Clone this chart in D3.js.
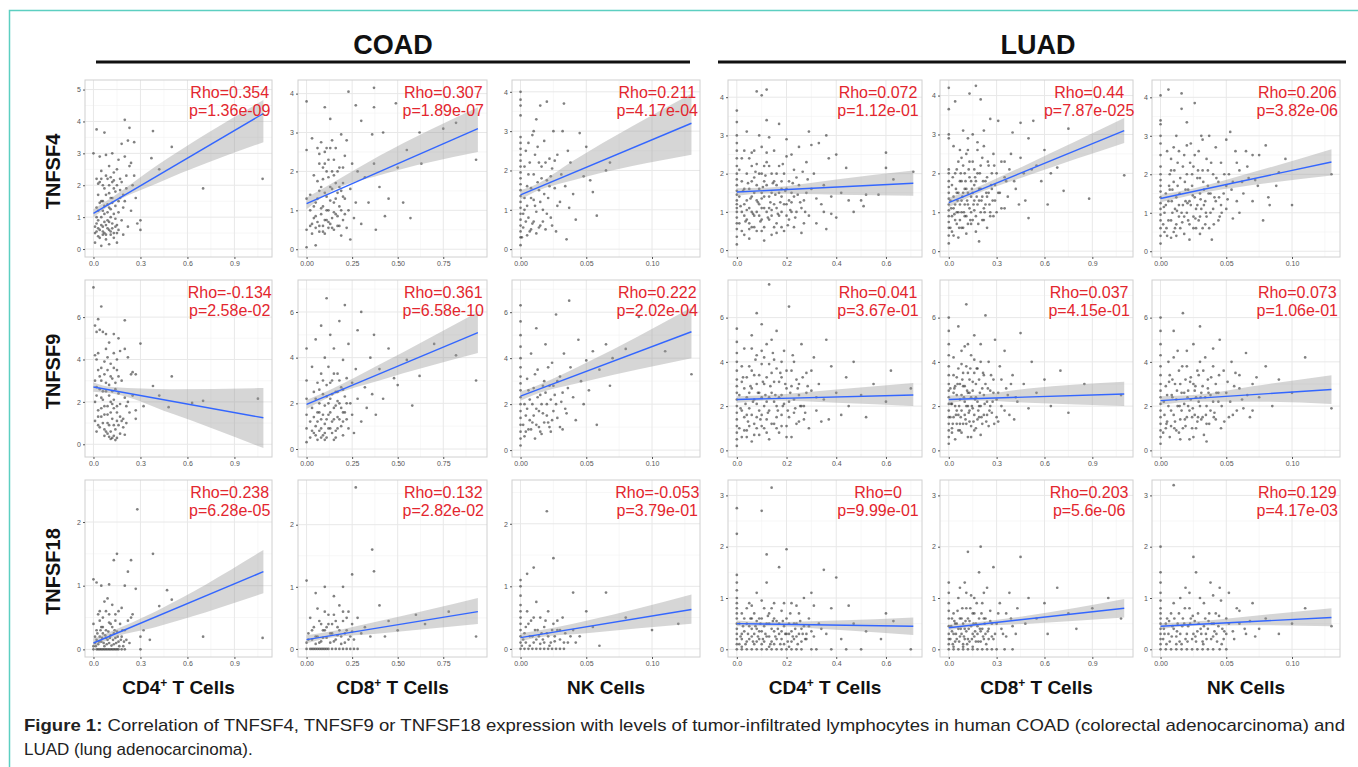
<!DOCTYPE html>
<html>
<head>
<meta charset="utf-8">
<script src="https://d3js.org/d3.v7.min.js"></script>
<style>
  body { margin: 0; background: #fff; }
  svg { display: block; font-family: "Liberation Sans", Arial, sans-serif; }
</style>
</head>
<body>
<script>
// ---- data ----
const cancers = ["COAD", "LUAD"];
const genes = ["TNFSF4", "TNFSF9", "TNFSF18"];
const cells = ["CD4", "CD8", "NK", "CD4", "CD8", "NK"];
const cellSup = ["+", "+", "", "+", "+", ""];

// x scale per column (same immune cell across rows)
const xDomains = [[-0.054, 1.14], [-0.047, 0.99], [-0.0065, 0.1365], [-0.0355, 0.745], [-0.055, 1.155], [-0.0065, 0.1365]];
const xTicks = [[0, 0.3, 0.6, 0.9], [0, 0.25, 0.5, 0.75], [0, 0.05, 0.10], [0, 0.2, 0.4, 0.6], [0, 0.3, 0.6, 0.9], [0, 0.05, 0.10]];
const xFormats = [".1f", ".2f", ".2f", ".1f", ".1f", ".2f"];
const labelX = [0.87, 0.75, 0.104, 0.568, 0.88, 0.104];

// y scale per panel, row by row
const yDomains = [
  [[-0.25, 5.3], [-0.2, 4.35], [-0.2, 4.3], [-0.18, 4.45], [-0.15, 4.4], [-0.15, 4.45]],
  [[-0.6, 7.75], [-0.35, 7.4], [-0.3, 7.4], [-0.3, 7.7], [-0.3, 7.7], [-0.3, 7.7]],
  [[-0.12, 2.66], [-0.13, 2.72], [-0.13, 2.7], [-0.15, 3.3], [-0.15, 3.3], [-0.15, 3.3]]
];
const yTicks = [
  [[0, 1, 2, 3, 4, 5], [0, 1, 2, 3, 4], [0, 1, 2, 3, 4], [0, 1, 2, 3, 4], [0, 1, 2, 3, 4], [0, 1, 2, 3, 4]],
  [[0, 2, 4, 6], [0, 2, 4, 6], [0, 2, 4, 6], [0, 2, 4, 6], [0, 2, 4, 6], [0, 2, 4, 6]],
  [[0, 1, 2], [0, 1, 2], [0, 1, 2], [0, 1, 2, 3], [0, 1, 2, 3], [0, 1, 2, 3]]
];

const rhoLabels = [
  ["Rho=0.354", "Rho=0.307", "Rho=0.211", "Rho=0.072", "Rho=0.44", "Rho=0.206"],
  ["Rho=-0.134", "Rho=0.361", "Rho=0.222", "Rho=0.041", "Rho=0.037", "Rho=0.073"],
  ["Rho=0.238", "Rho=0.132", "Rho=-0.053", "Rho=0", "Rho=0.203", "Rho=0.129"]
];
const pLabels = [
  ["p=1.36e-09", "p=1.89e-07", "p=4.17e-04", "p=1.12e-01", "p=7.87e-025", "p=3.82e-06"],
  ["p=2.58e-02", "p=6.58e-10", "p=2.02e-04", "p=3.67e-01", "p=4.15e-01", "p=1.06e-01"],
  ["p=6.28e-05", "p=2.82e-02", "p=3.79e-01", "p=9.99e-01", "p=5.6e-06", "p=4.17e-03"]
];

// fitted line [x0, y0, x1, y1]
const fitLines = [
  [[0, 1.12, 1.085, 4.25], [0, 1.17, 0.94, 3.1], [0, 1.38, 0.13, 3.2], [0, 1.52, 0.71, 1.75], [0, 1.25, 1.1, 3.1], [0, 1.37, 0.13, 2.32]],
  [[0, 2.7, 1.085, 1.25], [0, 1.95, 0.94, 5.1], [0, 2.35, 0.13, 5.15], [0, 2.3, 0.71, 2.5], [0, 2.3, 1.1, 2.55], [0, 2.25, 0.13, 2.75]],
  [[0, 0.1, 1.085, 1.22], [0, 0.15, 0.94, 0.6], [0, 0.18, 0.13, 0.63], [0, 0.5, 0.71, 0.45], [0, 0.42, 1.1, 0.8], [0, 0.45, 0.13, 0.62]]
];
// confidence band [x, lower, upper]
const bands = [
  [
    [[0, 1.0, 1.25], [0.12, 1.42, 1.62], [0.4, 2.05, 2.6], [1.085, 3.35, 4.67]],
    [[0, 1.03, 1.33], [0.13, 1.47, 1.67], [0.4, 1.9, 2.4], [0.94, 2.5, 3.65]],
    [[0, 1.26, 1.5], [0.01, 1.44, 1.62], [0.04, 1.75, 2.25], [0.13, 2.4, 3.95]],
    [[0, 1.42, 1.62], [0.13, 1.48, 1.64], [0.4, 1.45, 1.85], [0.71, 1.42, 2.08]],
    [[0, 1.13, 1.37], [0.15, 1.43, 1.6], [0.5, 1.95, 2.25], [1.1, 2.78, 3.42]],
    [[0, 1.27, 1.47], [0.025, 1.47, 1.63], [0.07, 1.72, 2.05], [0.13, 1.97, 2.65]]
  ],
  [
    [[0, 2.48, 2.92], [0.12, 2.4, 2.7], [0.5, 1.45, 2.6], [1.085, -0.18, 2.65]],
    [[0, 1.75, 2.15], [0.13, 2.3, 2.6], [0.4, 3.0, 3.7], [0.94, 4.2, 6.0]],
    [[0, 2.15, 2.55], [0.01, 2.4, 2.75], [0.05, 3.0, 3.8], [0.13, 4.0, 6.2]],
    [[0, 2.15, 2.45], [0.13, 2.25, 2.5], [0.4, 2.15, 2.75], [0.71, 2.0, 3.05]],
    [[0, 2.12, 2.48], [0.15, 2.25, 2.5], [0.5, 2.15, 2.8], [1.1, 2.0, 3.1]],
    [[0, 2.05, 2.45], [0.025, 2.2, 2.5], [0.07, 2.2, 2.9], [0.13, 2.1, 3.4]]
  ],
  [
    [[0, 0.04, 0.17], [0.1, 0.16, 0.27], [0.4, 0.35, 0.6], [1.085, 0.88, 1.56]],
    [[0, 0.09, 0.22], [0.13, 0.18, 0.28], [0.4, 0.25, 0.45], [0.94, 0.4, 0.82]],
    [[0, 0.12, 0.25], [0.01, 0.17, 0.28], [0.05, 0.25, 0.45], [0.13, 0.4, 0.87]],
    [[0, 0.45, 0.56], [0.13, 0.45, 0.53], [0.4, 0.38, 0.56], [0.71, 0.28, 0.62]],
    [[0, 0.37, 0.48], [0.15, 0.44, 0.52], [0.5, 0.5, 0.66], [1.1, 0.62, 0.98]],
    [[0, 0.39, 0.51], [0.025, 0.46, 0.54], [0.07, 0.47, 0.65], [0.13, 0.45, 0.8]]
  ]
];

// scatter points "x,y x,y ..." (spread + outliers)
const tnfsf4Points = [
  "0.01,0.5 0.02,0.8 0.03,0.4 0.04,0.6 0.05,1.0 0.06,0.7 0.07,0.5 0.08,0.3 0.09,0.9 0.1,0.6 0.11,0.45 0.12,0.8 0.13,1.1 0.14,0.7 0.02,1.3 0.03,1.7 0.04,2.1 0.05,2.2 0.06,1.5 0.07,1.9 0.08,2.3 0.09,1.4 0.1,2.0 0.11,1.6 0.12,2.1 0.13,2.4 0.14,1.8 0.15,2.0 0.16,1.5 0.17,2.2 0.18,0.9 0.19,1.3 0.2,2.9 0.21,1.9 0.22,0.7 0.23,2.6 0.24,1.2 0.25,2.0 0.27,1.6 0.28,0.8 0.3,0.9 0.3,0.6 0.0,3.0 0.04,2.9 0.08,2.95 0.12,3.0 0.16,2.8 0.18,3.3 0.22,3.4 0.26,3.35 0.02,3.75 0.07,3.65 0.2,4.05 0.23,3.8 0.38,3.7 0.5,3.2 0.37,2.85 0.42,2.5 0.7,1.9 1.08,2.2 0.01,0.2 0.05,0.1 0.1,0.15 0.15,0.2 0.06,1.2 0.09,1.15 0.02,1.0 0.15,0.5 0.19,0.45 0.13,0.35 0.17,1.6 0.24,2.7 0.26,2.3 0.03,0.65 0.06,0.45 0.08,0.75 0.11,1.0 0.04,1.45 0.07,1.1 0.1,1.3 0.12,1.45",
  "0.0,0.05 0.0,0.5 0.0,1.3 0.0,2.55 0.0,3.8 0.02,0.6 0.02,1.0 0.02,1.4 0.03,0.4 0.03,2.85 0.04,0.8 0.04,1.9 0.05,0.1 0.05,0.55 0.05,1.2 0.06,0.7 0.06,2.6 0.07,0.45 0.07,1.5 0.07,2.2 0.08,0.9 0.08,2.75 0.09,0.6 0.09,1.1 0.09,1.8 0.1,0.4 0.1,2.5 0.1,3.65 0.11,0.75 0.11,1.35 0.11,2.0 0.12,0.55 0.12,1.0 0.12,2.3 0.13,3.35 0.13,0.65 0.13,1.6 0.14,0.8 0.14,2.0 0.14,2.8 0.15,0.5 0.15,1.2 0.15,1.9 0.16,0.9 0.16,2.6 0.17,0.6 0.17,1.45 0.18,1.1 0.18,2.1 0.19,2.95 0.19,0.35 0.2,0.75 0.2,1.7 0.21,2.4 0.21,1.3 0.22,0.55 0.22,2.8 0.23,4.05 0.23,1.0 0.24,0.25 0.24,1.55 0.25,2.2 0.26,0.8 0.27,3.7 0.27,1.2 0.28,2.0 0.3,3.3 0.3,0.65 0.32,1.85 0.34,1.2 0.36,2.95 0.37,4.15 0.37,3.65 0.37,2.2 0.38,0.5 0.4,1.6 0.42,3.0 0.43,0.85 0.45,1.3 0.49,3.75 0.5,2.1 0.53,1.2 0.55,2.55 0.57,0.8 0.63,2.2 0.62,3.0 0.75,3.1 0.82,3.25 0.93,2.3",
  "0,0.1 0,0.3 0,0.45 0,0.6 0,0.75 0,0.9 0,1.05 0,1.2 0,1.35 0,1.5 0,1.65 0,1.8 0,1.95 0,2.1 0,2.25 0,2.4 0,2.55 0,2.7 0,2.85 0,3.4 0,3.65 0,3.8 0,4.0 0.002,0.55 0.003,1.0 0.004,2.5 0.005,0.35 0.005,1.6 0.006,0.8 0.007,2.2 0.008,0.5 0.008,1.3 0.009,2.9 0.01,0.7 0.01,1.9 0.011,1.1 0.012,3.3 0.012,0.4 0.013,2.6 0.014,1.5 0.015,0.6 0.015,3.65 0.016,2.1 0.017,1.0 0.018,2.75 0.019,0.5 0.02,1.75 0.02,3.75 0.021,1.3 0.022,2.3 0.023,0.8 0.024,2.05 0.025,3.0 0.026,1.55 0.027,0.45 0.028,2.4 0.03,1.2 0.031,1.9 0.032,3.0 0.033,3.7 0.034,1.6 0.035,0.25 0.036,2.5 0.037,1.05 0.038,2.2 0.04,1.4 0.042,0.75 0.045,2.95 0.048,1.85 0.05,2.6 0.053,1.75 0.055,1.45 0.058,0.85 0.065,2.0 0.068,2.2",
  "0,0.15 0,0.35 0,0.55 0,0.7 0,0.85 0,1.0 0,1.1 0,1.2 0,1.3 0,1.45 0,1.55 0,1.7 0,1.85 0,2.0 0,2.2 0,2.4 0,2.6 0,2.8 0,3.0 0,3.35 0,3.65 0.02,0.5 0.03,1.2 0.03,2.6 0.04,0.8 0.04,3.1 0.05,1.6 0.05,0.3 0.06,2.2 0.06,1.0 0.07,0.6 0.07,1.9 0.07,2.6 0.08,1.3 0.08,4.15 0.09,0.9 0.09,2.0 0.09,3.0 0.1,0.5 0.1,1.5 0.1,2.7 0.1,4.05 0.11,1.1 0.11,1.8 0.11,0.25 0.12,3.4 0.12,4.2 0.12,2.3 0.13,0.8 0.13,1.4 0.14,2.0 0.14,0.4 0.15,1.2 0.15,2.6 0.16,0.7 0.16,1.7 0.17,2.2 0.17,3.3 0.18,1.0 0.18,1.4 0.19,0.5 0.19,2.0 0.2,1.2 0.2,2.9 0.21,0.8 0.21,1.8 0.22,2.5 0.22,1.5 0.23,0.6 0.23,2.1 0.24,1.0 0.25,1.7 0.25,2.7 0.26,0.45 0.27,1.3 0.28,2.3 0.29,0.9 0.29,3.1 0.3,1.6 0.31,2.0 0.32,0.7 0.33,2.8 0.34,1.2 0.35,1.0 0.36,3.0 0.36,0.55 0.37,2.4 0.38,1.4 0.4,0.85 0.4,2.5 0.42,1.5 0.44,2.15 0.45,1.3 0.47,1.0 0.5,1.3 0.51,1.15 0.52,1.45 0.57,1.45 0.6,2.55 0.6,2.15 0.63,1.85 0.71,2.05 0.3,2.75 0.13,2.95",
  "0,0.2 0,0.4 0,0.6 0,0.75 0,0.9 0,1.05 0,1.2 0,1.35 0,1.5 0,1.65 0,1.8 0,2.0 0,2.1 0,2.9 0,3.0 0,3.65 0,4.2 0.02,0.5 0.03,1.1 0.03,2.7 0.04,0.8 0.04,3.85 0.05,1.5 0.05,2.1 0.06,0.35 0.06,1.0 0.07,1.8 0.07,2.6 0.08,0.6 0.08,1.3 0.09,2.2 0.09,3.1 0.1,0.9 0.1,1.6 0.11,2.5 0.11,0.45 0.12,1.2 0.12,2.9 0.13,1.9 0.13,4.05 0.14,0.7 0.14,1.4 0.15,2.3 0.15,3.0 0.16,1.05 0.16,1.7 0.17,4.25 0.17,0.5 0.18,2.0 0.18,2.6 0.19,1.3 0.19,0.25 0.2,3.9 0.2,1.6 0.21,0.8 0.21,2.4 0.22,1.1 0.22,2.7 0.23,1.8 0.24,0.6 0.24,1.4 0.25,2.2 0.26,3.4 0.26,1.0 0.27,1.6 0.28,0.9 0.28,2.5 0.29,1.3 0.3,2.0 0.31,3.35 0.32,1.5 0.33,2.3 0.35,1.1 0.36,1.8 0.38,2.1 0.4,3.05 0.42,1.6 0.45,2.4 0.45,3.3 0.48,1.3 0.5,0.85 0.5,2.9 0.52,2.1 0.53,3.35 0.55,2.2 0.58,1.8 0.6,2.6 0.62,1.2 0.64,2.0 0.68,2.15 0.72,1.55 0.75,3.15 0.88,1.35 1.1,1.95 0.35,2.3",
  "0,0.2 0,0.4 0,0.6 0,0.8 0,0.95 0,1.1 0,1.25 0,1.4 0,1.55 0,1.7 0,1.85 0,2.0 0,2.2 0,2.5 0,2.8 0,3.0 0,3.3 0,3.4 0,4.05 0.003,0.5 0.004,1.2 0.005,2.6 0.006,0.8 0.006,4.2 0.007,1.6 0.008,0.35 0.008,2.1 0.009,1.0 0.01,1.8 0.01,2.7 0.011,0.6 0.012,1.4 0.012,3.0 0.013,2.3 0.014,0.9 0.015,1.9 0.016,4.1 0.016,3.7 0.017,1.2 0.018,2.5 0.018,0.45 0.019,1.6 0.02,3.35 0.02,2.0 0.021,0.8 0.022,1.3 0.023,2.8 0.024,1.7 0.025,0.6 0.025,2.2 0.026,3.85 0.027,1.1 0.028,1.9 0.029,2.6 0.03,0.9 0.03,1.5 0.031,3.0 0.032,2.1 0.033,1.2 0.034,0.7 0.035,2.4 0.036,1.7 0.037,3.0 0.038,1.0 0.039,0.3 0.04,2.0 0.041,1.4 0.042,2.7 0.044,1.8 0.045,0.9 0.046,2.3 0.048,1.5 0.05,2.9 0.05,1.1 0.052,2.0 0.053,3.1 0.054,1.6 0.055,0.85 0.057,2.6 0.058,1.3 0.06,2.1 0.062,1.8 0.065,2.6 0.067,1.9 0.07,2.5 0.072,1.85 0.075,2.5 0.08,2.75 0.078,0.8 0.082,1.4 0.083,1.2 0.088,1.7 0.09,2.05 0.095,2.4 0.1,1.2 0.13,2.0"
];
// extra points in the dense core of each TNFSF4 panel
const tnfsf4Dense = [
  "0.01,0.7 0.02,0.55 0.03,0.9 0.04,0.35 0.05,0.75 0.06,0.55 0.07,0.85 0.08,0.45 0.09,0.65 0.1,0.85 0.11,0.55 0.12,0.65 0.13,0.5 0.14,0.95 0.15,0.75 0.16,0.6 0.03,1.2 0.05,1.5 0.07,1.35 0.08,1.7 0.1,1.75 0.11,1.25 0.12,1.6 0.13,1.9 0.14,1.35 0.16,1.15 0.17,1.85 0.18,2.1 0.19,1.7 0.2,1.5 0.03,2.05 0.06,2.0 0.09,2.2 0.11,2.25 0.13,2.15 0.15,2.5 0.05,2.45 0.1,2.6 0.02,2.2 0.21,2.3",
  "0.03,0.65 0.04,1.1 0.05,0.85 0.06,1.3 0.07,0.6 0.08,1.05 0.09,0.45 0.1,0.75 0.11,1.0 0.12,0.7 0.13,1.25 0.14,0.55 0.15,0.95 0.16,1.3 0.17,0.85 0.18,0.6 0.19,1.0 0.2,1.35 0.06,1.75 0.08,1.6 0.1,1.45 0.12,1.85 0.14,1.55 0.16,1.7 0.18,1.6 0.2,2.1 0.1,2.2 0.13,2.6 0.15,2.3 0.07,2.45 0.09,2.1 0.11,2.6 0.17,2.0 0.19,1.5 0.21,0.9",
  "0.001,0.3 0.002,0.9 0.003,1.3 0.004,0.7 0.005,1.1 0.006,1.9 0.007,0.45 0.008,1.55 0.009,0.65 0.01,1.25 0.011,2.4 0.012,0.95 0.013,1.7 0.014,0.55 0.015,1.2 0.016,1.8 0.017,0.7 0.018,1.4 0.019,2.2 0.02,0.9 0.022,1.6 0.023,1.85 0.024,0.6 0.026,2.25 0.028,1.1 0.003,2.1 0.006,2.7 0.01,3.0 0.014,2.2",
  "0.01,0.7 0.01,1.4 0.01,2.1 0.02,1.0 0.02,1.8 0.02,2.4 0.03,0.4 0.03,0.9 0.03,1.6 0.04,1.3 0.04,2.0 0.05,0.7 0.05,1.1 0.05,2.4 0.06,0.6 0.06,1.4 0.06,1.8 0.07,0.9 0.07,1.5 0.08,0.5 0.08,1.0 0.08,1.7 0.09,1.2 0.09,1.6 0.1,0.8 0.1,1.1 0.1,2.0 0.11,0.6 0.11,1.4 0.11,2.2 0.12,1.0 0.12,1.7 0.13,1.1 0.13,2.2 0.14,0.9 0.14,1.5 0.15,0.6 0.15,1.8 0.16,1.1 0.16,2.0 0.17,0.9 0.17,1.5 0.18,1.8 0.18,0.6 0.19,1.2 0.2,0.9 0.2,1.6 0.21,1.3 0.22,1.0 0.23,1.4 0.24,1.9 0.26,1.1 0.27,0.7 0.28,1.5 0.015,1.15 0.025,1.55 0.035,0.75 0.045,1.75 0.055,1.35 0.065,0.95 0.075,2.05 0.085,1.25 0.095,0.75 0.105,1.65 0.115,1.95 0.125,0.85 0.135,1.25 0.145,1.75 0.155,1.45 0.165,0.95 0.175,1.25 0.185,2.25 0.195,1.55 0.205,0.65 0.215,1.05 0.225,1.75 0.235,0.85 0.245,1.45 0.255,1.25 0.265,2.05 0.275,1.0 0.285,1.85 0.12,2.55 0.08,2.25 0.05,0.55 0.16,0.45 0.2,2.45 0.04,1.05 0.1,1.35 0.14,1.05 0.18,1.6 0.22,1.25 0.06,2.55 0.32,1.35 0.35,1.7 0.38,0.95",
  "0.01,0.6 0.01,1.3 0.02,0.9 0.02,1.7 0.03,1.4 0.03,0.4 0.04,1.2 0.04,2.0 0.05,0.7 0.05,1.0 0.06,1.5 0.06,2.3 0.07,0.8 0.07,1.2 0.08,1.0 0.08,1.8 0.09,0.6 0.09,1.5 0.1,1.2 0.1,2.0 0.11,0.9 0.11,1.6 0.12,0.7 0.12,1.5 0.13,1.1 0.13,2.3 0.14,1.0 0.14,1.8 0.15,0.8 0.15,1.5 0.16,1.3 0.16,2.1 0.17,0.9 0.17,1.8 0.18,1.2 0.19,1.6 0.2,1.0 0.2,2.2 0.21,1.4 0.22,0.8 0.23,1.2 0.24,1.9 0.25,1.5 0.26,0.9 0.27,2.0 0.29,1.7 0.3,1.0 0.015,1.1 0.025,1.9 0.035,0.95 0.045,1.6 0.055,1.3 0.065,0.6 0.075,2.0 0.085,1.4 0.095,1.0 0.105,1.8 0.115,1.3 0.125,2.1 0.135,0.8 0.145,1.6 0.155,1.2 0.165,1.9 0.175,1.4 0.185,0.7 0.195,2.0 0.205,1.3 0.215,1.8 0.225,1.0 0.235,1.5 0.245,2.3 0.255,1.2 0.265,1.7 0.275,1.3 0.285,2.2 0.31,1.5 0.33,1.1 0.35,1.9 0.37,1.4 0.39,2.5 0.41,1.8 0.44,1.2 0.47,2.0 0.08,2.4 0.12,2.6 0.18,2.8 0.22,3.1",
  "0.002,0.7 0.003,1.0 0.004,1.5 0.005,0.4 0.006,1.3 0.007,2.0 0.008,0.8 0.009,1.6 0.01,0.5 0.011,1.1 0.012,0.7 0.013,1.7 0.014,1.2 0.015,0.6 0.016,1.0 0.017,2.2 0.018,0.9 0.019,1.3 0.02,1.0 0.021,1.6 0.022,0.7 0.023,1.2 0.024,2.0 0.025,0.9 0.026,1.4 0.027,0.6 0.028,1.2 0.029,0.8 0.03,1.9 0.031,1.1 0.032,0.6 0.033,1.6 0.034,1.3 0.035,0.9 0.036,2.1 0.037,0.6 0.038,1.5 0.04,1.1 0.042,1.3 0.044,0.8 0.046,1.2 0.05,1.7 0.0025,1.15 0.0045,0.6 0.0065,1.7 0.0085,1.3 0.0105,2.1 0.0125,1.05 0.0145,1.5 0.0165,0.75 0.0185,1.8 0.0205,1.25 0.0225,2.3 0.0245,1.45 0.0265,0.85 0.0285,2.1 0.0305,1.35 0.0325,1.8 0.0345,1.0 0.0365,1.5 0.0385,2.3 0.0405,0.7 0.0425,1.9 0.0445,1.4 0.0465,1.0 0.0485,2.0 0.051,1.35 0.055,1.8 0.058,2.3 0.06,1.0 0.063,1.5 0.066,2.2 0.07,1.3 0.074,1.7 0.014,2.6 0.02,2.75 0.026,2.5 0.032,2.9 0.008,2.4 0.012,0.4 0.022,0.3 0.03,0.45"
];
const tnfsf9Points = [
  "0,7.4 0.05,6.5 0.03,5.9 0.2,5.85 0.3,4.75 0.01,5.6 0.02,5.3 0.04,5.4 0.06,5.3 0.08,5.2 0.13,5.2 0.16,5.0 0.01,4.2 0.02,4.0 0.03,4.3 0.05,3.6 0.07,3.9 0.09,4.1 0.11,3.8 0.13,4.3 0.15,3.5 0.17,4.4 0.2,4.5 0.22,4.1 0.24,3.3 0.25,3.4 0.01,3.0 0.02,2.7 0.04,3.2 0.06,2.5 0.08,2.9 0.1,2.3 0.12,3.1 0.14,2.6 0.16,2.4 0.18,3.0 0.2,2.2 0.01,2.0 0.03,1.6 0.05,2.2 0.07,1.8 0.09,1.4 0.11,2.0 0.13,1.7 0.15,1.5 0.17,1.9 0.19,1.2 0.21,1.8 0.23,1.5 0.01,1.1 0.03,0.9 0.05,1.3 0.07,0.7 0.09,1.0 0.11,0.6 0.13,0.9 0.15,1.1 0.17,0.5 0.19,0.8 0.21,1.0 0.12,0.3 0.14,0.2 0.1,0.35 0.2,0.45 0.27,3.3 0.5,3.2 0.38,2.75 0.42,2.3 0.32,1.8 0.48,1.75 0.63,1.95 0.7,2.05 1.05,2.15 0.27,1.2 0.22,2.0 0.27,1.6 0.25,2.3",
  "0,0.3 0,0.9 0,1.5 0,2.2 0,3.0 0,4.4 0.02,0.5 0.02,1.2 0.03,1.8 0.03,3.6 0.04,0.7 0.04,2.5 0.05,1.0 0.05,4.8 0.06,0.4 0.06,1.6 0.06,2.9 0.07,0.8 0.07,2.0 0.08,1.3 0.08,3.3 0.08,5.4 0.09,0.6 0.09,2.4 0.1,1.1 0.1,1.9 0.1,4.0 0.11,0.5 0.11,2.8 0.11,6.6 0.12,1.5 0.12,3.6 0.13,0.9 0.13,2.2 0.13,5.0 0.14,1.2 0.14,3.0 0.15,0.4 0.15,1.8 0.15,4.4 0.16,2.5 0.16,0.8 0.17,1.4 0.17,3.3 0.18,2.0 0.18,5.6 0.19,1.0 0.19,2.7 0.2,0.6 0.2,1.6 0.2,3.9 0.21,2.3 0.21,6.3 0.22,1.3 0.22,3.1 0.23,0.9 0.23,4.6 0.24,2.0 0.25,1.5 0.25,2.9 0.26,0.7 0.27,3.5 0.28,2.2 0.28,5.2 0.3,1.2 0.3,6.0 0.32,2.7 0.33,1.8 0.35,4.0 0.36,2.4 0.37,5.0 0.38,1.5 0.4,3.5 0.42,2.2 0.45,4.4 0.48,3.1 0.5,2.8 0.55,3.9 0.58,1.9 0.62,3.2 0.7,4.6 0.82,4.1 0.93,3.0",
  "0,0.2 0,0.5 0,0.8 0,1.1 0,1.4 0,1.7 0,2.0 0,2.3 0,2.6 0,2.9 0,3.2 0,3.6 0,4.0 0,4.5 0,5.0 0,5.6 0,6.3 0.003,0.6 0.004,1.5 0.005,3.1 0.006,0.9 0.007,2.2 0.008,4.2 0.009,1.2 0.01,2.7 0.011,0.5 0.012,1.8 0.012,5.3 0.013,3.5 0.014,1.0 0.015,2.4 0.016,0.7 0.017,1.6 0.018,3.0 0.019,4.6 0.02,2.0 0.021,1.2 0.022,2.8 0.023,0.8 0.024,3.8 0.025,1.7 0.026,2.4 0.027,5.9 0.028,1.4 0.03,3.2 0.031,2.1 0.032,0.9 0.033,4.2 0.035,1.6 0.036,2.7 0.037,6.5 0.038,3.6 0.04,2.3 0.042,1.3 0.044,4.8 0.046,3.0 0.048,2.0 0.05,3.9 0.052,2.6 0.055,4.3 0.058,1.1 0.06,3.5 0.065,4.6 0.068,2.8 0.07,4.0 0.08,4.4 0.09,5.8 0.11,4.3 0.13,3.3",
  "0,0.2 0,0.5 0,0.8 0,1.1 0,1.4 0,1.7 0,2.0 0,2.3 0,2.6 0,2.9 0,3.2 0,3.6 0,4.0 0,4.4 0,4.9 0,5.5 0.02,0.6 0.02,3.1 0.03,1.5 0.03,4.6 0.04,2.4 0.04,0.9 0.05,3.8 0.05,1.9 0.06,0.4 0.06,2.8 0.06,5.2 0.07,1.2 0.07,3.4 0.08,2.1 0.08,4.3 0.08,6.2 0.09,0.7 0.09,2.6 0.1,1.6 0.1,3.9 0.1,5.7 0.11,1.0 0.11,3.0 0.12,2.2 0.12,4.8 0.13,0.5 0.13,1.8 0.13,7.5 0.14,3.5 0.14,2.6 0.15,1.2 0.15,4.1 0.16,2.0 0.16,5.4 0.17,0.8 0.17,3.1 0.18,1.6 0.18,2.5 0.19,4.5 0.2,1.1 0.2,3.6 0.21,2.2 0.21,6.5 0.22,0.6 0.22,2.9 0.23,1.7 0.23,4.0 0.24,3.2 0.25,1.3 0.25,2.5 0.26,4.8 0.27,2.0 0.28,3.5 0.29,1.0 0.3,2.7 0.31,4.2 0.32,1.8 0.33,3.0 0.35,2.3 0.36,5.0 0.37,1.4 0.38,3.8 0.4,2.6 0.42,1.6 0.44,3.3 0.45,2.0 0.47,4.0 0.5,2.5 0.52,1.5 0.55,3.0 0.6,2.2 0.62,3.6 0.7,2.8",
  "0,0.3 0,0.6 0,0.9 0,1.2 0,1.5 0,1.8 0,2.1 0,2.4 0,2.7 0,3.0 0,3.4 0,3.8 0,4.3 0,4.8 0,5.4 0,6.0 0.02,1.0 0.03,2.6 0.03,4.2 0.04,0.5 0.05,1.8 0.05,3.3 0.06,5.6 0.07,1.2 0.07,2.3 0.08,3.9 0.08,0.8 0.09,2.9 0.1,1.6 0.1,4.7 0.11,2.0 0.11,6.6 0.12,0.6 0.12,3.5 0.13,1.3 0.13,2.6 0.14,4.3 0.15,1.9 0.15,3.1 0.16,0.9 0.16,5.2 0.17,2.4 0.18,1.4 0.18,3.7 0.19,2.0 0.2,4.8 0.2,0.7 0.21,2.8 0.22,1.6 0.22,3.4 0.23,6.1 0.24,2.2 0.25,1.1 0.25,4.0 0.26,2.7 0.27,1.7 0.28,3.2 0.29,5.0 0.3,2.3 0.31,1.3 0.32,3.8 0.33,2.0 0.35,4.5 0.36,2.8 0.38,1.6 0.4,3.4 0.42,2.4 0.45,5.3 0.47,3.0 0.5,1.9 0.52,4.0 0.55,2.6 0.6,3.2 0.64,2.0 0.7,3.6 0.75,1.7 0.85,3.0 1.08,2.5",
  "0,0.3 0,0.6 0,0.9 0,1.2 0,1.5 0,1.8 0,2.1 0,2.4 0,2.7 0,3.0 0,3.4 0,3.8 0,4.3 0,4.8 0,5.4 0,6.0 0.004,1.0 0.005,2.5 0.006,4.0 0.007,0.6 0.008,1.8 0.009,3.2 0.01,5.4 0.011,1.3 0.012,2.3 0.013,4.5 0.014,0.8 0.015,3.0 0.016,1.8 0.017,6.2 0.018,2.6 0.019,1.1 0.02,3.8 0.021,2.0 0.022,0.5 0.023,3.3 0.024,1.5 0.025,4.8 0.026,2.7 0.027,1.0 0.028,3.6 0.029,2.2 0.03,5.6 0.031,1.4 0.032,2.9 0.033,0.7 0.034,4.2 0.035,2.0 0.036,3.2 0.037,1.2 0.038,2.5 0.04,4.6 0.041,1.7 0.042,3.0 0.044,2.2 0.045,5.0 0.046,1.0 0.048,3.6 0.05,2.6 0.052,1.5 0.054,4.0 0.056,2.9 0.058,1.8 0.06,3.4 0.062,2.3 0.065,4.4 0.068,1.5 0.07,3.0 0.075,2.4 0.08,3.8 0.085,2.0 0.09,3.2 0.1,2.6 0.11,4.2 0.13,1.9"
];
const tnfsf9Dense = [
  "0.02,0.6 0.04,0.8 0.06,1.0 0.08,0.6 0.1,0.9 0.12,1.2 0.14,0.7 0.16,0.9 0.18,1.1 0.03,1.3 0.05,1.7 0.07,1.4 0.09,1.8 0.11,1.5 0.13,2.1 0.15,1.8 0.17,1.3 0.02,2.3 0.04,2.6 0.06,2.1 0.08,2.5 0.1,2.8 0.12,2.5 0.14,2.9 0.16,3.2 0.03,3.5 0.05,3.0 0.07,3.3 0.09,3.5 0.11,3.2 0.13,3.6 0.15,4.0 0.08,4.5 0.1,4.8 0.12,1.9 0.07,0.4 0.09,0.5 0.11,0.25 0.13,0.4 0.15,0.3",
  "0.03,0.8 0.04,1.4 0.05,0.6 0.06,1.2 0.07,1.6 0.08,0.9 0.09,1.5 0.1,0.7 0.11,1.3 0.12,0.9 0.12,2.0 0.13,1.6 0.14,0.7 0.14,2.4 0.15,1.3 0.16,1.9 0.17,0.9 0.17,2.5 0.18,1.3 0.19,1.8 0.2,1.2 0.2,2.6 0.21,1.6 0.22,2.0 0.07,2.6 0.09,3.0 0.11,2.3 0.13,2.9 0.15,3.3 0.17,2.1 0.18,3.0 0.05,2.2 0.08,0.5 0.1,0.4 0.16,0.5",
  "0.002,1.1 0.003,2.0 0.004,0.8 0.005,1.8 0.006,2.6 0.007,1.3 0.008,0.9 0.009,2.0 0.01,1.5 0.011,3.3 0.012,1.1 0.013,2.3 0.014,1.7 0.015,0.8 0.016,2.0 0.017,2.8 0.018,1.2 0.019,2.5 0.02,1.5 0.021,3.6 0.022,1.0 0.023,2.2 0.024,1.3 0.025,2.8 0.027,2.0 0.028,3.0 0.03,1.0 0.032,2.5 0.034,1.8",
  "0.01,1.0 0.01,2.5 0.02,1.8 0.02,3.8 0.03,0.9 0.03,2.8 0.04,1.6 0.04,3.3 0.05,1.1 0.05,2.6 0.06,1.6 0.06,3.6 0.07,2.3 0.07,0.7 0.08,1.5 0.08,3.0 0.09,1.8 0.09,3.4 0.1,1.1 0.1,2.4 0.11,2.0 0.11,4.2 0.12,1.4 0.12,3.3 0.13,2.4 0.13,3.9 0.14,1.2 0.15,2.2 0.15,3.1 0.16,1.5 0.16,3.7 0.17,2.4 0.18,1.1 0.18,3.3 0.19,2.1 0.2,2.8 0.21,1.5 0.22,3.6 0.23,2.3 0.24,1.2 0.25,3.0 0.26,2.0 0.27,1.4 0.28,2.6 0.015,1.9 0.025,3.3 0.035,2.1 0.045,1.3 0.055,2.9 0.065,2.2 0.075,4.1 0.085,2.6 0.095,1.4 0.105,3.1 0.115,2.5 0.125,1.7 0.135,2.9 0.145,4.4 0.155,2.5 0.165,1.8 0.175,3.5 0.185,2.0 0.195,3.0 0.205,1.8 0.215,2.6 0.225,4.3 0.235,1.9 0.245,2.8 0.255,2.0 0.265,3.3 0.275,1.7 0.285,2.9 0.3,3.6 0.32,2.4 0.34,1.3 0.06,4.6 0.1,4.5 0.14,5.0 0.18,4.0 0.04,0.6 0.12,0.8 0.2,0.6 0.08,1.0 0.16,1.0",
  "0.01,1.5 0.01,2.8 0.02,2.1 0.02,0.8 0.03,1.5 0.03,3.4 0.04,2.0 0.04,2.9 0.05,1.2 0.05,2.5 0.06,1.6 0.06,3.7 0.07,0.9 0.07,3.0 0.08,1.8 0.08,2.5 0.09,1.2 0.09,3.5 0.1,2.2 0.1,2.9 0.11,1.2 0.11,3.8 0.12,2.0 0.12,2.6 0.13,1.8 0.13,3.2 0.14,1.1 0.14,2.4 0.15,2.7 0.16,1.6 0.16,3.5 0.17,1.0 0.17,3.0 0.18,2.2 0.19,1.5 0.19,3.2 0.2,2.0 0.21,1.2 0.22,2.5 0.23,3.0 0.24,1.6 0.26,2.0 0.28,2.6 0.3,1.5 0.015,2.1 0.025,1.2 0.035,2.8 0.045,1.6 0.055,3.0 0.065,2.0 0.075,1.5 0.085,3.2 0.095,2.4 0.105,1.4 0.115,2.7 0.125,1.7 0.135,3.7 0.145,2.0 0.155,1.3 0.165,2.3 0.175,3.7 0.185,1.8 0.195,2.6 0.205,1.5 0.215,3.5 0.225,2.1 0.235,1.3 0.245,2.8 0.255,1.8 0.265,3.4 0.275,2.2 0.285,1.2 0.31,2.6 0.33,3.2 0.35,1.8 0.37,2.5 0.39,3.0 0.41,1.4 0.43,2.2 0.08,4.5 0.12,4.8 0.16,4.1 0.2,4.0 0.06,0.9 0.14,0.6",
  "0.002,0.8 0.003,1.6 0.004,2.9 0.005,1.3 0.006,2.0 0.007,3.4 0.008,1.1 0.009,2.4 0.01,1.6 0.011,3.0 0.012,0.9 0.013,2.0 0.014,3.6 0.015,1.4 0.016,2.6 0.017,1.0 0.018,2.1 0.019,3.2 0.02,1.5 0.021,2.7 0.022,1.8 0.023,2.3 0.024,1.0 0.025,3.0 0.026,1.6 0.027,2.4 0.028,1.3 0.029,3.4 0.03,2.0 0.031,2.6 0.032,1.5 0.034,2.4 0.035,1.2 0.036,2.8 0.038,1.8 0.04,2.2 0.042,1.4 0.044,2.6 0.0025,2.2 0.0045,1.2 0.0065,3.1 0.0085,2.5 0.0105,1.0 0.0125,2.7 0.0145,2.0 0.0165,3.8 0.0185,1.4 0.0205,2.4 0.0225,3.1 0.0245,1.9 0.0265,2.9 0.0285,1.5 0.0305,2.4 0.0325,3.6 0.0345,1.6 0.0365,2.6 0.0385,3.3 0.0405,1.5 0.0425,2.6 0.0445,3.4 0.0465,2.0 0.0485,1.3 0.051,3.1 0.053,2.2 0.055,1.6 0.057,3.5 0.06,2.8 0.063,1.9 0.066,2.5 0.07,1.8 0.073,3.3 0.01,4.2 0.02,4.5 0.03,4.0 0.04,3.8 0.015,0.5 0.025,0.6 0.035,0.4"
];
const tnfsf18Points = [
  "0,0 0.02,0 0.04,0 0.06,0 0.08,0 0.1,0 0.12,0 0.14,0 0.16,0 0.18,0 0.2,0 0.03,0 0.05,0 0.07,0 0.09,0 0.11,0 0.13,0 0.15,0 0.3,0 0,0.05 0.01,0.1 0.02,0.15 0.03,0.08 0.04,0.2 0.05,0.12 0.06,0.25 0.07,0.05 0.08,0.3 0.09,0.15 0.1,0.1 0.11,0.22 0.12,0.35 0.13,0.08 0.14,0.18 0.15,0.28 0.16,0.12 0.17,0.4 0.18,0.2 0.19,0.05 0.2,0.3 0.21,0.15 0.22,0.45 0.23,0.1 0.02,0.3 0.04,0.45 0.06,0.5 0.08,0.6 0.1,0.55 0.12,0.7 0.14,0.45 0.16,0.6 0.18,0.65 0.0,0.4 0.03,0.55 0.07,0.75 0.09,0.8 0.11,0.4 0.13,0.25 0.05,0.35 0.25,0.55 0.24,0.5 0.28,2.2 0.15,1.5 0.13,1.4 0.24,1.4 0.38,1.5 0.22,1.22 0,1.1 0.02,1.05 0.1,1.02 0.05,1.0 0.2,1.0 0.27,0.95 0.47,0.93 0.5,0.78 0.42,0.68 0.7,0.2 1.08,0.18 0.36,0.15 0.3,0.2 0.32,0.3",
  "0,0 0.02,0 0.04,0 0.06,0 0.08,0 0.1,0 0.12,0 0.14,0 0.16,0 0.18,0 0.2,0 0.22,0 0.24,0 0.26,0 0.28,0 0.03,0 0.05,0 0.07,0 0.09,0 0.11,0 0,0.1 0.01,0.25 0.02,0.5 0.03,0.15 0.04,0.35 0.05,0.08 0.06,0.2 0.07,0.45 0.08,0.12 0.09,0.3 0.1,0.6 0.11,0.18 0.12,0.4 0.13,0.1 0.14,0.25 0.15,0.55 0.16,0.15 0.17,0.35 0.18,0.7 0.19,0.2 0.2,0.45 0.21,0.1 0.22,0.3 0.23,0.6 0.24,0.2 0.25,0.4 0.26,0.15 0.28,0.5 0.3,0.25 0.32,0.35 0.35,0.2 0,1.1 0.05,0.9 0.1,1.0 0.15,0.85 0.2,1.0 0.27,2.6 0.36,1.6 0.37,1.25 0.25,1.2 0.4,0.7 0.45,0.45 0.5,0.3 0.6,0.55 0.65,0.4 0.78,0.6 0.93,0.2 0.43,0.2",
  "0,0 0,0.1 0,0.2 0,0.3 0,0.4 0,0.5 0,0.6 0,0.7 0,0.85 0,1.0 0,1.1 0.003,0 0.006,0 0.009,0 0.012,0 0.015,0 0.018,0 0.021,0 0.024,0 0.027,0 0.03,0 0.033,0 0.002,0.15 0.004,0.35 0.005,0.6 0.007,0.2 0.008,0.45 0.01,0.1 0.011,0.3 0.012,0.75 0.014,0.2 0.015,0.5 0.017,0.15 0.018,0.35 0.02,0.25 0.021,0.6 0.023,0.1 0.025,0.4 0.026,0.2 0.028,0.3 0.03,0.15 0.032,0.5 0.034,0.25 0.036,0.1 0.04,0.3 0.045,0.2 0.02,2.2 0.025,1.45 0.01,1.3 0.005,1.2 0.04,0.9 0.05,0.6 0.055,0.35 0.065,0.9 0.08,0.5 0.1,0.3 0.12,0.4 0.06,0.05",
  "0.02,0 0.04,0 0.06,0 0.08,0 0.1,0 0.12,0 0.14,0 0.16,0 0.18,0 0.2,0 0.22,0 0.24,0 0.26,0 0.3,0 0.32,0 0.38,0 0.44,0 0.5,0 0.7,0 0,0 0,0.1 0,0.2 0,0.3 0,0.4 0,0.5 0,0.6 0,0.7 0,0.8 0,0.9 0,1.0 0,1.15 0,1.3 0,1.45 0,2.25 0,2.75 0.02,0.3 0.03,0.6 0.04,0.15 0.05,0.45 0.05,0.9 0.06,0.25 0.07,0.7 0.07,0.1 0.08,0.4 0.08,1.1 0.09,0.2 0.09,0.6 0.1,0.35 0.1,2.7 0.11,0.8 0.11,0.15 0.12,0.5 0.12,1.3 0.13,0.25 0.13,0.7 0.14,3.15 0.14,0.4 0.15,0.9 0.15,0.1 0.16,0.55 0.17,0.3 0.17,1.6 0.18,0.75 0.18,0.2 0.19,0.45 0.2,1.95 0.2,0.6 0.21,0.3 0.22,0.9 0.22,0.15 0.23,0.5 0.24,0.25 0.25,0.7 0.26,0.4 0.27,1.0 0.28,0.2 0.29,0.6 0.3,0.35 0.31,0.85 0.33,0.5 0.35,1.55 0.36,0.3 0.38,0.8 0.4,1.4 0.42,0.2 0.45,0.85 0.47,0.5 0.52,0.35 0.58,0.2 0.6,0.7 0.63,0.55 0.3,1.1 0.12,1.85",
  "0,0 0.03,0 0.06,0 0.09,0 0.12,0 0.15,0 0.18,0 0.21,0 0.24,0 0.27,0 0.3,0 0.35,0 0.4,0 0,0.1 0,0.2 0,0.3 0,0.45 0,0.6 0,0.75 0,0.9 0,1.1 0,1.3 0.02,0.35 0.03,0.7 0.04,0.15 0.05,0.5 0.06,1.0 0.07,0.25 0.08,0.6 0.09,0.1 0.1,0.4 0.1,1.3 0.11,0.8 0.12,0.2 0.13,0.55 0.14,1.05 0.15,0.3 0.16,0.7 0.17,0.15 0.18,0.45 0.19,1.5 0.2,0.35 0.21,0.9 0.22,0.2 0.23,0.6 0.24,1.2 0.25,0.4 0.26,0.75 0.27,0.25 0.28,1.6 0.3,0.5 0.32,0.9 0.34,0.3 0.36,0.7 0.38,1.1 0.4,0.45 0.43,0.8 0.45,1.8 0.48,0.5 0.5,1.0 0.55,0.6 0.6,0.9 0.62,0.3 0.68,1.2 0.75,0.7 0.8,0.4 0.9,0.8 1.0,1.0 1.08,0.6 0.2,2.0 0.12,1.9",
  "0,0 0.004,0 0.008,0 0.012,0 0.016,0 0.02,0 0.024,0 0.028,0 0.032,0 0.036,0 0.04,0 0.045,0 0.05,0 0,0.1 0,0.2 0,0.3 0,0.4 0,0.5 0,0.6 0,0.7 0,0.8 0,0.95 0,1.1 0,1.3 0,1.5 0,2.0 0.003,0.3 0.005,0.6 0.007,0.15 0.009,0.45 0.01,0.9 0.012,0.25 0.014,0.7 0.016,0.1 0.018,0.5 0.019,1.2 0.02,0.3 0.022,0.8 0.024,0.2 0.026,0.55 0.027,1.5 0.028,0.35 0.03,1.0 0.032,0.15 0.034,0.6 0.036,0.4 0.038,1.3 0.04,0.25 0.042,0.7 0.044,0.45 0.046,0.95 0.048,0.2 0.05,0.6 0.052,1.1 0.055,0.35 0.058,0.8 0.06,0.5 0.065,0.3 0.07,0.9 0.075,0.4 0.08,0.6 0.09,0.3 0.1,0.5 0.11,0.8 0.13,0.45 0.01,3.2 0.025,1.8"
];
const tnfsf18Dense = [
  "0.01,0.2 0.015,0.05 0.025,0.25 0.035,0.12 0.045,0.3 0.055,0.18 0.065,0.1 0.075,0.22 0.085,0.08 0.095,0.28 0.105,0.18 0.115,0.06 0.125,0.15 0.135,0.3 0.145,0.1 0.155,0.2 0.165,0.05 0.175,0.15 0.185,0.3 0.195,0.12 0.06,0.35 0.1,0.42 0.14,0.55 0.04,0.6 0.08,0.18",
  "0.01,0.15 0.03,0.3 0.05,0.2 0.07,0.1 0.09,0.18 0.11,0.35 0.13,0.25 0.15,0.12 0.17,0.22 0.19,0.08 0.21,0.25 0.23,0.15 0.25,0.28 0.08,0.4 0.12,0.55 0.16,0.45 0.2,0.6 0.06,0.65 0.1,0.3 0.14,0.4 0.18,0.3 0.22,0.5",
  "0.001,0.05 0.003,0.25 0.004,0.1 0.006,0.4 0.007,0.05 0.009,0.2 0.01,0.5 0.012,0.15 0.013,0.3 0.015,0.08 0.016,0.25 0.018,0.1 0.019,0.45 0.021,0.2 0.022,0.05 0.024,0.3 0.026,0.12 0.028,0.45 0.03,0.3 0.033,0.1 0.038,0.2 0.042,0.1",
  "0.01,0.1 0.01,0.5 0.02,0.2 0.02,0.7 0.03,0.35 0.04,0.5 0.04,0.8 0.05,0.2 0.06,0.4 0.06,0.6 0.07,0.3 0.08,0.15 0.08,0.55 0.09,0.35 0.1,0.6 0.1,0.1 0.11,0.45 0.12,0.25 0.13,0.5 0.14,0.15 0.15,0.35 0.15,0.6 0.16,0.2 0.17,0.5 0.18,0.35 0.19,0.1 0.2,0.3 0.21,0.5 0.22,0.35 0.23,0.2 0.24,0.5 0.25,0.3 0.26,0.15 0.27,0.45 0.28,0.3 0.015,0.25 0.025,0.45 0.035,0.1 0.045,0.3 0.055,0.6 0.065,0.15 0.075,0.45 0.085,0.25 0.095,0.5 0.105,0.2 0.115,0.3 0.125,0.65 0.135,0.1 0.145,0.55 0.155,0.25 0.165,0.4 0.175,0.1 0.185,0.55 0.195,0.3 0.205,0.15 0.215,0.7 0.225,0.25 0.235,0.4 0.245,0.1 0.255,0.55 0.265,0.3 0.275,0.2 0.29,0.45 0.31,0.25 0.34,0.4 0.06,0.85 0.1,0.95 0.14,0.8 0.19,0.9 0.24,0.85 0.02,0.05 0.13,0.05 0.21,0.05",
  "0.01,0.2 0.02,0.6 0.03,0.3 0.04,0.5 0.05,0.2 0.06,0.4 0.07,0.6 0.08,0.3 0.09,0.5 0.1,0.2 0.11,0.35 0.12,0.6 0.13,0.15 0.14,0.45 0.15,0.7 0.16,0.25 0.17,0.5 0.18,0.3 0.19,0.6 0.2,0.15 0.21,0.4 0.22,0.6 0.23,0.3 0.25,0.2 0.27,0.5 0.29,0.3 0.015,0.45 0.025,0.1 0.035,0.55 0.045,0.3 0.055,0.75 0.065,0.15 0.075,0.4 0.085,0.8 0.095,0.25 0.105,0.55 0.115,0.1 0.125,0.4 0.135,0.8 0.145,0.2 0.155,0.5 0.165,0.35 0.175,0.9 0.185,0.15 0.195,0.4 0.205,0.7 0.215,0.25 0.225,0.5 0.235,0.1 0.245,0.35 0.26,0.55 0.28,0.2 0.31,0.7 0.33,0.4 0.36,0.25 0.39,0.6 0.42,0.3 0.07,1.2 0.11,1.1 0.16,1.0 0.22,1.1 0.03,0.05 0.09,0.05 0.15,0.05",
  "0.002,0.2 0.004,0.5 0.006,0.3 0.008,0.7 0.01,0.4 0.012,0.1 0.013,0.5 0.015,0.3 0.017,0.6 0.019,0.2 0.021,0.45 0.023,0.6 0.025,0.3 0.027,0.15 0.029,0.5 0.031,0.3 0.033,0.45 0.035,0.2 0.037,0.7 0.039,0.5 0.041,0.35 0.043,0.15 0.047,0.4 0.05,0.3 0.0025,0.4 0.0045,0.1 0.0065,0.55 0.0085,0.25 0.0105,0.6 0.0125,0.35 0.0145,0.15 0.0165,0.45 0.0185,0.8 0.0205,0.15 0.0225,0.5 0.0245,0.65 0.0265,0.25 0.0285,0.7 0.0305,0.4 0.0325,0.1 0.0345,0.3 0.0365,0.55 0.0385,0.2 0.0405,0.5 0.0425,0.3 0.0445,0.65 0.0465,0.1 0.0485,0.35 0.052,0.5 0.056,0.2 0.06,0.75 0.064,0.4 0.068,0.55 0.072,0.25 0.015,1.0 0.022,1.1 0.033,0.9 0.04,1.05 0.045,1.2"
];
const pointSets = [tnfsf4Points, tnfsf9Points, tnfsf18Points];
const denseSets = [tnfsf4Dense, tnfsf9Dense, tnfsf18Dense];

const captionBold = "Figure 1:";
const captionLine1 = " Correlation of TNFSF4, TNFSF9 or TNFSF18 expression with levels of tumor-infiltrated lymphocytes in human COAD (colorectal adenocarcinoma) and";
const captionLine2 = "LUAD (lung adenocarcinoma).";

// ---- layout ----
const W = 1358, H = 767;
const colLeft = [85, 298, 512, 728, 940, 1152];
const colWidth = [187, 189, 188, 194, 193, 188];
const rowTop = [80, 280, 480];
const rowHeight = 177;

const svg = d3.select("body").append("svg")
  .attr("width", W)
  .attr("height", H);

svg.append("rect").attr("width", W).attr("height", H).attr("fill", "#fff");

// teal frame
svg.append("rect")
  .attr("x", 9.5).attr("y", 10.5)
  .attr("width", W + 20).attr("height", H + 20)
  .attr("fill", "none")
  .attr("stroke", "#5ccfc1")
  .attr("stroke-width", 1.5);

// group headers
const headerCenter = [393, 1038];
const headerLine = [[96, 690], [718, 1346]];
cancers.forEach((c, i) => {
  svg.append("text")
    .attr("x", headerCenter[i]).attr("y", 54)
    .attr("text-anchor", "middle")
    .attr("font-size", 27).attr("font-weight", "bold")
    .attr("fill", "#111")
    .text(c);
  svg.append("line")
    .attr("x1", headerLine[i][0]).attr("x2", headerLine[i][1])
    .attr("y1", 62).attr("y2", 62)
    .attr("stroke", "#111").attr("stroke-width", 3);
});

// row labels
genes.forEach((g, r) => {
  svg.append("text")
    .attr("transform", `translate(60,${rowTop[r] + rowHeight / 2 + 3}) rotate(-90)`)
    .attr("text-anchor", "middle")
    .attr("font-size", 20).attr("font-weight", "bold")
    .attr("fill", "#111")
    .text(g);
});

// column labels
cells.forEach((c, i) => {
  const t = svg.append("text")
    .attr("x", colLeft[i] + colWidth[i] / 2).attr("y", 694)
    .attr("text-anchor", "middle")
    .attr("font-size", 19).attr("font-weight", "bold")
    .attr("fill", "#111");
  t.append("tspan").text(c);
  if (cellSup[i]) {
    t.append("tspan").attr("font-size", 12).attr("dy", -7).text(cellSup[i]);
    t.append("tspan").attr("dy", 7).text(" T Cells");
  } else {
    t.append("tspan").text(" Cells");
  }
});

const parsePts = s => s.trim().split(/\s+/).map(p => p.split(",").map(Number));

// panels
genes.forEach((g, r) => {
  cells.forEach((c, col) => {
    const left = colLeft[col], top = rowTop[r];
    const w = colWidth[col], h = rowHeight;
    const x = d3.scaleLinear().domain(xDomains[col]).range([left, left + w]);
    const y = d3.scaleLinear().domain(yDomains[r][col]).range([top + h, top]);
    const g0 = svg.append("g");

    g0.append("rect")
      .attr("x", left).attr("y", top).attr("width", w).attr("height", h)
      .attr("fill", "#fff");

    // minor grid
    const xt = xTicks[col], yt = yTicks[r][col];
    const xStep = xt[1] - xt[0], yStep = yt[1] - yt[0];
    const xMinor = d3.range(xt[0] - xStep / 2, xDomains[col][1], xStep).filter(v => v > xDomains[col][0]);
    const yMinor = d3.range(yt[0] - yStep / 2, yDomains[r][col][1], yStep).filter(v => v > yDomains[r][col][0]);
    g0.selectAll(".xmin").data(xMinor).join("line").attr("class", "xmin")
      .attr("x1", d => x(d)).attr("x2", d => x(d)).attr("y1", top).attr("y2", top + h)
      .attr("stroke", "#f2f2f2").attr("stroke-width", 0.6);
    g0.selectAll(".ymin").data(yMinor).join("line").attr("class", "ymin")
      .attr("y1", d => y(d)).attr("y2", d => y(d)).attr("x1", left).attr("x2", left + w)
      .attr("stroke", "#f2f2f2").attr("stroke-width", 0.6);
    // major grid
    g0.selectAll(".xmaj").data(xt).join("line").attr("class", "xmaj")
      .attr("x1", d => x(d)).attr("x2", d => x(d)).attr("y1", top).attr("y2", top + h)
      .attr("stroke", "#e8e8e8").attr("stroke-width", 1);
    g0.selectAll(".ymaj").data(yt).join("line").attr("class", "ymaj")
      .attr("y1", d => y(d)).attr("y2", d => y(d)).attr("x1", left).attr("x2", left + w)
      .attr("stroke", "#e8e8e8").attr("stroke-width", 1);

    // points
    const pts = parsePts(pointSets[r][col]).concat(parsePts(denseSets[r][col]));
    g0.selectAll("circle").data(pts).join("circle")
      .attr("cx", d => x(d[0])).attr("cy", d => y(d[1]))
      .attr("r", 1.35)
      .attr("fill", "#333").attr("fill-opacity", 0.62);

    // confidence band
    const area = d3.area()
      .x(d => x(d[0])).y0(d => y(d[1])).y1(d => y(d[2]))
      .curve(d3.curveMonotoneX);
    g0.append("path").datum(bands[r][col])
      .attr("d", area)
      .attr("fill", "#999").attr("fill-opacity", 0.4);

    // fitted line
    const f = fitLines[r][col];
    g0.append("line")
      .attr("x1", x(f[0])).attr("y1", y(f[1]))
      .attr("x2", x(f[2])).attr("y2", y(f[3]))
      .attr("stroke", "#3366ff").attr("stroke-width", 1.4);

    // border
    g0.append("rect")
      .attr("x", left).attr("y", top).attr("width", w).attr("height", h)
      .attr("fill", "none").attr("stroke", "#d0d0d0").attr("stroke-width", 1);

    // axes
    const fmt = d3.format(xFormats[col]);
    const xAxis = d3.axisBottom(x).tickValues(xt).tickFormat(fmt).tickSize(2).tickPadding(2);
    const yAxis = d3.axisLeft(y).tickValues(yt).tickFormat(d3.format("d")).tickSize(2).tickPadding(2);
    const ax = g0.append("g").attr("transform", `translate(0,${top + h})`).call(xAxis);
    const ay = g0.append("g").attr("transform", `translate(${left},0)`).call(yAxis);
    [ax, ay].forEach(a => {
      a.attr("color", "#555");
      a.select(".domain").remove();
      a.selectAll(".tick line").attr("stroke", "#555");
      a.selectAll(".tick text").attr("font-size", 7).attr("fill", "#555")
        .attr("font-family", "'Liberation Sans', Arial, sans-serif");
    });

    // annotation
    const ann = g0.append("text")
      .attr("text-anchor", "middle")
      .attr("font-size", 16)
      .attr("fill", "#e3262e");
    ann.append("tspan").attr("x", x(labelX[col])).attr("y", top + 18).text(rhoLabels[r][col]);
    ann.append("tspan").attr("x", x(labelX[col])).attr("y", top + 36).text(pLabels[r][col]);
  });
});

// caption
const cap = svg.append("text")
  .attr("x", 24).attr("y", 731)
  .attr("font-size", 17).attr("fill", "#222")
  .attr("textLength", 1321).attr("lengthAdjust", "spacingAndGlyphs");
cap.append("tspan").attr("font-weight", "bold").text(captionBold);
cap.append("tspan").text(captionLine1);
svg.append("text")
  .attr("x", 24).attr("y", 755)
  .attr("font-size", 17).attr("fill", "#222")
  .text(captionLine2);
</script>
</body>
</html>
